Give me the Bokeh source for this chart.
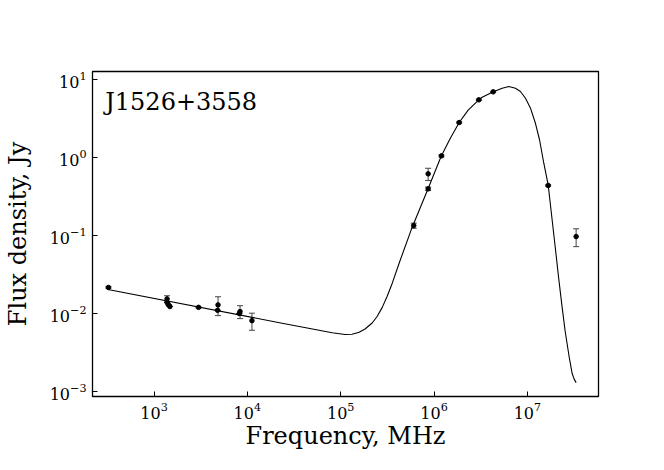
from bokeh.plotting import figure
from bokeh.models import (ColumnDataSource, Range1d, FixedTicker, Whisker, TeeHead,
                          LogTickFormatter, Label)
from bokeh.embed import file_html
from bokeh.resources import INLINE

# ---- data ----
obs_freq = [325, 1380, 1380, 1430, 1480, 3000, 4850, 4800, 8350, 8200, 11200,
            606000, 865000, 865000, 1.2e6, 1.86e6, 3.02e6, 4.3e6, 1.67e7, 3.33e7]
obs_flux = [0.0216, 0.0154, 0.0139, 0.0129, 0.0123, 0.0120, 0.0129, 0.0110, 0.0106, 0.0100, 0.0081,
            0.134, 0.618, 0.397, 1.05, 2.81, 5.49, 6.95, 0.438, 0.097]
obs_err = [0.0005, 0.0015, 0.0, 0.0, 0.0, 0.0002, 0.0035, 0.0, 0.002, 0.0, 0.002,
           0.01, 0.11, 0.02, 0.03, 0.06, 0.1, 0.1, 0.01, 0.025]

model_freq = [321, 23550, 53200, 81000, 111400, 132400, 157400, 182400, 217300, 245500, 278000,
              314000, 356000, 433000, 582000, 865000, 1.19e6, 1.49e6, 1.86e6, 2.32e6,
              3.04e6, 3.28e6, 4.31e6, 5.37e6, 6.34e6, 7.45e6, 8.43e6, 9.55e6, 1.08e7,
              1.22e7, 1.35e7, 1.50e7, 1.67e7, 1.99e7, 2.16e7, 2.36e7, 2.54e7, 2.81e7,
              3.02e7, 3.18e7, 3.33e7]
model_flux = [0.0203, 0.00752, 0.00624, 0.00566, 0.00538, 0.00541, 0.00574, 0.00633, 0.00755, 0.00916, 0.0119,
              0.0165, 0.0243, 0.0478, 0.127, 0.401, 1.03, 1.75, 2.81, 4.06,
              5.54, 5.93, 6.95, 7.73, 8.13, 7.73, 7.02, 5.75, 4.29,
              2.75, 1.69, 0.845, 0.447, 0.0702, 0.029, 0.0119, 0.00593, 0.00273,
              0.0017, 0.00143, 0.0013]

x_ticks = [1e3, 1e4, 1e5, 1e6, 1e7]
y_ticks = [1e-3, 1e-2, 1e-1, 1e0, 1e1]
source_name = "J1526+3558"

FONT = "DejaVu Serif"

p = figure(width=664, height=470, x_axis_type="log", y_axis_type="log",
           output_backend="svg", toolbar_location=None,
           x_range=Range1d(10 ** 2.341, 10 ** 7.762),
           y_range=Range1d(10 ** -3.064, 10 ** 1.103),
           min_border_left=90, min_border_right=66, min_border_top=71, min_border_bottom=74)

p.background_fill_color = "white"
p.border_fill_color = "white"
p.outline_line_color = "black"
p.outline_line_width = 1.3
p.xgrid.visible = False
p.ygrid.visible = False

for ax, ticks in ((p.xaxis[0], x_ticks), (p.yaxis[0], y_ticks)):
    ax.ticker = FixedTicker(ticks=ticks, minor_ticks=[])
    ax.formatter = LogTickFormatter()
    ax.axis_line_color = None
    ax.major_tick_in = 5
    ax.major_tick_out = 0
    ax.minor_tick_in = 0
    ax.minor_tick_out = 0
    ax.major_tick_line_color = "black"
    ax.major_label_text_font = FONT
    ax.major_label_text_font_size = "16px"
    ax.major_label_text_color = "black"
    ax.axis_label_text_font = FONT
    ax.axis_label_text_font_size = "24px"
    ax.axis_label_text_font_style = "normal"
    ax.axis_label_text_color = "black"

p.xaxis.major_label_standoff = 5
p.yaxis.major_label_standoff = 6
p.xaxis.axis_label = "Frequency, MHz"
p.yaxis.axis_label = "Flux density, Jy"
p.xaxis.axis_label_standoff = 0
p.yaxis.axis_label_standoff = 15

# model curve
p.line(model_freq, model_flux, line_color="black", line_width=1.1)

# error bars
upper = [f + e for f, e in zip(obs_flux, obs_err)]
lower = [f - e for f, e in zip(obs_flux, obs_err)]
src = ColumnDataSource(dict(x=obs_freq, y=obs_flux, upper=upper, lower=lower))
w = Whisker(base="x", upper="upper", lower="lower", source=src, dimension="height",
            line_color="#444444", line_width=1,
            upper_head=TeeHead(size=6, line_color="#444444", line_width=1),
            lower_head=TeeHead(size=6, line_color="#444444", line_width=1))
p.add_layout(w)

p.scatter("x", "y", source=src, size=4.5, fill_color="black", line_color="black")

p.add_layout(Label(x=300, y=5.1, text=source_name, text_font=FONT, text_font_size="24px",
                   text_baseline="middle", text_align="left", text_color="black"))

open("out.html", "w").write(file_html(p, INLINE))
